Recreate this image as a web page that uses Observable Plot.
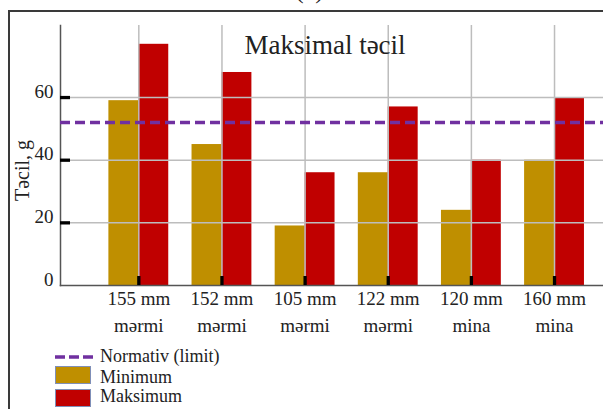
<!DOCTYPE html>
<html><head><meta charset="utf-8">
<script src="https://cdn.jsdelivr.net/npm/d3@7"></script>
<script src="https://cdn.jsdelivr.net/npm/@observablehq/plot@0.6"></script>
<style>
body{margin:0;background:#fff;}
#wrap{position:relative;width:603px;height:409px;overflow:hidden;font-family:"Liberation Serif",serif;}
#frame{position:absolute;left:8px;top:10px;width:700px;height:500px;border:2px solid #3a3a3a;box-sizing:border-box;}
#tag{position:absolute;left:295px;top:-23px;font-size:26px;line-height:26px;color:#222;}
#chart{position:absolute;left:0;top:0;}
#legend{position:absolute;left:0;top:345px;}
</style></head><body>
<div id="wrap"><div id="frame"></div><div id="tag">(c)</div><div id="chart"></div>
<svg id="legend" width="603" height="64" font-family="Liberation Serif" font-size="18" fill="#222">
  <line x1="55" x2="93" y1="12" y2="12" stroke="#7030A0" stroke-width="3.5" stroke-dasharray="10,4"/>
  <text x="100" y="16.7">Normativ (limit)</text>
  <rect x="55.5" y="21.5" width="35" height="17" fill="#BF8F00" stroke="#7f8fb8" stroke-width="1"/>
  <text x="100" y="38">Minimum</text>
  <rect x="55.5" y="44.5" width="35" height="17" fill="#C00000" stroke="#7f8fb8" stroke-width="1"/>
  <text x="100" y="56.7">Maksimum</text>
</svg>
</div>
<script>
const categories = ["155 mm\nmərmi", "152 mm\nmərmi", "105 mm\nmərmi", "122 mm\nmərmi", "120 mm\nmina", "160 mm\nmina"];
const minimum = [59, 45, 19, 36, 24, 40];
const maksimum = [77, 68, 36, 57, 40, 60];
const normativ = 52;
const yTicks = [0, 20, 40, 60];
const seriesNames = ["Minimum", "Maksimum"];
const seriesColors = ["#BF8F00", "#C00000"];
const title = "Maksimal təcil";
const yLabel = "Təcil, g";

// layout: each category occupies one unit on x; the two bars sit side by side around the category tick
const barWidth = 0.36;
const positions = categories.map((_, i) => i);
const data = categories.flatMap((c, i) => [
  {series: "Minimum", value: minimum[i], x1: i - barWidth, x2: i},
  {series: "Maksimum", value: maksimum[i], x1: i, x2: i + barWidth}
]);

const chart = Plot.plot({
  width: 603, height: 345,
  marginTop: 25, marginBottom: 60, marginLeft: 60, marginRight: 0,
  style: {fontFamily: "Liberation Serif", background: "transparent", color: "#222"},
  x: {domain: [-0.942, 5.589], axis: null},
  y: {domain: [0, 83], axis: null},
  color: {domain: seriesNames, range: seriesColors},
  marks: [
    Plot.rectY(data, {x1: "x1", x2: "x2", y1: 0, y2: "value", fill: "series"}),
    Plot.gridY(yTicks.slice(1), {stroke: "#bdbdbd", strokeOpacity: 1, strokeWidth: 1.5}),
    Plot.gridX(positions, {stroke: "#bdbdbd", strokeOpacity: 1, strokeWidth: 1.5}),
    Plot.frame({anchor: "left", stroke: "#555", strokeWidth: 1.5}),
    Plot.frame({anchor: "bottom", stroke: "#555", strokeWidth: 1.5}),
    Plot.axisY(yTicks.slice(1), {tickSize: -10, strokeWidth: 3.3, stroke: "#000", tickFormat: () => "", label: null}),
    Plot.axisY(yTicks, {tickSize: 0, tickPadding: 7, fontSize: 19, dy: -6, label: null}),
    Plot.axisX(positions, {tickSize: -9, strokeWidth: 3.3, stroke: "#000", tickFormat: () => "", label: null}),
    Plot.axisX(positions, {tickSize: 0, tickPadding: 1, fontSize: 19, lineHeight: 1.4, tickFormat: (i) => categories[i], label: null}),
    Plot.ruleY([normativ], {stroke: "#7030A0", strokeWidth: 3.5, strokeDasharray: "10,5"}),
    Plot.text([title], {frameAnchor: "top", lineAnchor: "top", dx: -7, dy: 9, fontSize: 27}),
    Plot.text([yLabel], {frameAnchor: "left", textAnchor: "middle", rotate: -90, dx: -38, dy: 15, fontSize: 20})
  ]
});
document.getElementById("chart").appendChild(chart);
</script>
</body></html>
